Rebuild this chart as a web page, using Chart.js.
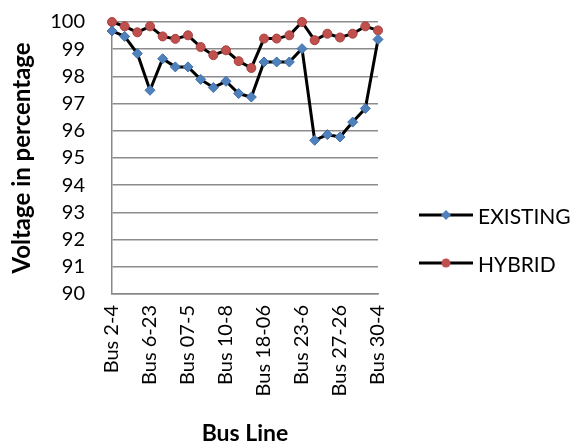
<!DOCTYPE html>
<html>
<head>
<meta charset="utf-8">
<script src="https://cdn.jsdelivr.net/npm/chart.js@4"></script>
<style>
    html, body { margin: 0; padding: 0; background: #fff; }
    #wrap { width: 578px; height: 447px; }
</style>
</head>
<body>
<div id="wrap"><canvas id="voltageChart" width="578" height="447"></canvas></div>
<script>
// Bus lines (only every third name is printed on the axis)
const busLines = [
    'Bus 2-4', '', '', 'Bus 6-23', '', '', 'Bus 07-5', '', '', 'Bus 10-8', '',
    '', 'Bus 18-06', '', '', 'Bus 23-6', '', '', 'Bus 27-26', '', '', 'Bus 30-4'
];

const existing = [
    99.67, 99.47, 98.84, 97.49, 98.65, 98.35, 98.35, 97.89, 97.59, 97.82, 97.37,
    97.24, 98.53, 98.53, 98.53, 99.02, 95.65, 95.86, 95.77, 96.32, 96.82, 99.36
];

const hybrid = [
    100.0, 99.84, 99.62, 99.84, 99.47, 99.38, 99.51, 99.08, 98.78, 98.96, 98.56,
    98.31, 99.39, 99.39, 99.51, 100.0, 99.33, 99.57, 99.43, 99.57, 99.84, 99.69
];

const yTicks = [90, 91, 92, 93, 94, 95, 96, 97, 98, 99, 100];

const FONT = 'Lato, "Open Sans", sans-serif';

// legend on the right: black line with the marker in the middle
const sideLegend = {
    id: 'sideLegend',
    afterDraw(chart) {
        const ctx = chart.ctx;
        const rows = [215, 263];
        ctx.save();
        chart.data.datasets.forEach((ds, i) => {
            const y = rows[i];
            ctx.strokeStyle = '#000';
            ctx.lineWidth = 3;
            ctx.beginPath();
            ctx.moveTo(419, y);
            ctx.lineTo(473, y);
            ctx.stroke();
            ctx.fillStyle = ds.pointBackgroundColor;
            ctx.beginPath();
            if (ds.pointStyle === 'rectRot') {
                ctx.moveTo(446, y - 5); ctx.lineTo(451, y); ctx.lineTo(446, y + 5); ctx.lineTo(441, y);
            } else {
                ctx.arc(446, y, 4.5, 0, Math.PI * 2);
            }
            ctx.closePath();
            ctx.fill();
            ctx.fillStyle = '#000';
            ctx.font = '21px ' + FONT;
            ctx.textBaseline = 'middle';
            ctx.fillText(ds.label, 478, y + 2);
        });
        ctx.restore();
    }
};

new Chart(document.getElementById('voltageChart'), {
    type: 'line',
    data: {
        labels: busLines,
        datasets: [
            {
                label: 'EXISTING',
                data: existing,
                borderColor: '#000',
                borderWidth: 3,
                pointStyle: 'rectRot',
                pointRadius: 5,
                pointBackgroundColor: '#4F81BD',
                pointBorderColor: '#3F6FA8',
                pointBorderWidth: 1,
                tension: 0,
                clip: false
            },
            {
                label: 'HYBRID',
                data: hybrid,
                borderColor: '#000',
                borderWidth: 3,
                pointStyle: 'circle',
                pointRadius: 4.5,
                pointBackgroundColor: '#C0504D',
                pointBorderColor: '#A8403D',
                pointBorderWidth: 1,
                tension: 0,
                clip: false
            }
        ]
    },
    options: {
        responsive: false,
        animation: false,
        layout: { padding: { top: 22, right: 200, left: 0, bottom: 0 } },
        plugins: { legend: { display: false }, tooltip: { enabled: false } },
        scales: {
            x: {
                offset: false,
                grid: { display: false, drawTicks: false },
                border: { color: '#888', width: 1.5 },
                ticks: {
                    autoSkip: false,
                    maxRotation: 90,
                    minRotation: 90,
                    padding: 11,
                    color: '#000',
                    font: { family: FONT, size: 20 },
                    callback: (v, i) => busLines[i]
                },
                title: {
                    display: true,
                    text: 'Bus Line',
                    color: '#000',
                    font: { family: FONT, size: 23, weight: 'bold' },
                    padding: { top: 0, bottom: 0 }
                },
                afterFit: s => { s.height = 153; }
            },
            y: {
                min: 90,
                max: 100,
                afterBuildTicks: s => { s.ticks = yTicks.map(v => ({ value: v })); },
                grid: {
                    color: '#8c8c8c',
                    lineWidth: 1.5,
                    drawTicks: true,
                    tickLength: 27,
                    tickColor: 'rgba(0,0,0,0)'
                },
                border: { color: '#888', width: 1.5 },
                ticks: {
                    autoSkip: false,
                    padding: 0,
                    color: '#000',
                    font: { family: FONT, size: 20 }
                },
                title: {
                    display: true,
                    text: 'Voltage in percentage',
                    color: '#000',
                    font: { family: FONT, size: 24, weight: 'bold' },
                    padding: { top: 8, bottom: 0 }
                },
                afterFit: s => { s.width = 112; }
            }
        }
    },
    plugins: [sideLegend]
});
</script>
</body>
</html>
